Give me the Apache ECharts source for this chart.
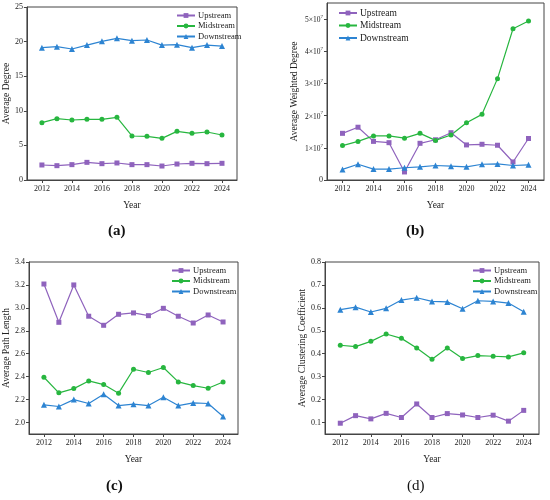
<!DOCTYPE html>
<html>
<head>
<meta charset="UTF-8">
<title>network indicators</title>
<style>
  html, body { margin: 0; padding: 0; background: #fff; }
  #main { width: 550px; height: 500px; }
</style>
</head>
<body>
<div id="main"></div>
<script src="https://cdn.jsdelivr.net/npm/echarts@6/dist/echarts.min.js"></script>
<script>
// 年份与刻度
var years = [2012, 2013, 2014, 2015, 2016, 2017, 2018, 2019, 2020, 2021, 2022, 2023, 2024];
var yearTicks = [2012, 2014, 2016, 2018, 2020, 2022, 2024];
var seriesNames = ['Upstream', 'Midstream', 'Downstream'];

// (a) Average Degree
var degreeUp = [2.17, 2.07, 2.22, 2.55, 2.36, 2.46, 2.22, 2.22, 2.02, 2.31, 2.41, 2.36, 2.41];
var degreeMid = [8.29, 8.86, 8.67, 8.77, 8.77, 9.06, 6.36, 6.31, 6.02, 7.03, 6.74, 6.94, 6.5];
var degreeDown = [19.12, 19.27, 18.93, 19.5, 20.04, 20.47, 20.13, 20.23, 19.5, 19.56, 19.12, 19.5, 19.36];

// (b) Average Weighted Degree
var wdegUp = [1.45e7, 1.64e7, 1.2e7, 1.16e7, 0.25e7, 1.14e7, 1.25e7, 1.47e7, 1.09e7, 1.11e7, 1.08e7, 0.56e7, 1.29e7];
var wdegMid = [1.07e7, 1.2e7, 1.37e7, 1.37e7, 1.3e7, 1.45e7, 1.23e7, 1.4e7, 1.78e7, 2.04e7, 3.15e7, 4.7e7, 4.94e7];
var wdegDown = [0.33e7, 0.49e7, 0.34e7, 0.34e7, 0.38e7, 0.41e7, 0.45e7, 0.43e7, 0.41e7, 0.49e7, 0.5e7, 0.45e7, 0.47e7];
var wdegTicks = [0, 1e7, 2e7, 3e7, 4e7, 5e7];

// (c) Average Path Length
var pathUp = [3.208, 2.874, 3.2, 2.927, 2.848, 2.944, 2.956, 2.932, 2.996, 2.927, 2.868, 2.938, 2.877];
var pathMid = [2.395, 2.259, 2.296, 2.363, 2.331, 2.256, 2.465, 2.436, 2.48, 2.354, 2.322, 2.299, 2.354];
var pathDown = [2.154, 2.14, 2.2, 2.166, 2.247, 2.148, 2.16, 2.148, 2.221, 2.148, 2.171, 2.166, 2.052];
var pathTicks = [2.0, 2.2, 2.4, 2.6, 2.8, 3.0, 3.2, 3.4];

// (d) Average Clustering Coefficient
var clusUp = [0.097, 0.13, 0.116, 0.14, 0.122, 0.181, 0.122, 0.139, 0.133, 0.122, 0.132, 0.106, 0.153];
var clusMid = [0.437, 0.431, 0.454, 0.486, 0.467, 0.425, 0.376, 0.425, 0.379, 0.392, 0.389, 0.386, 0.404];
var clusDown = [0.592, 0.603, 0.582, 0.598, 0.634, 0.644, 0.628, 0.626, 0.596, 0.631, 0.628, 0.621, 0.583];
var clusTicks = [0.1, 0.2, 0.3, 0.4, 0.5, 0.6, 0.7, 0.8];

var colors = ['#8f63bd', '#27b63f', '#2d84d2'];
var symbols = ['rect', 'circle', 'triangle'];
var fontFamily = '"Liberation Serif", "Times New Roman", serif';
var txt = '#222';

var chart = echarts.init(document.getElementById('main'));

// 四个子图的位置
var grids = [
  {left: 23, top: 7, width: 214, height: 173},
  {left: 327, top: 3, width: 217, height: 177},
  {left: 25, top: 262, width: 213, height: 172},
  {left: 325, top: 262, width: 214, height: 172}
];
grids.forEach(function (g) {
  g.show = true;
  g.borderColor = '#444';
  g.borderWidth = 1;
  g.backgroundColor = 'transparent';
});

var panelData = [
  [degreeUp, degreeMid, degreeDown],
  [wdegUp, wdegMid, wdegDown],
  [pathUp, pathMid, pathDown],
  [clusUp, clusMid, clusDown]
];

var xAxes = grids.map(function (g, i) {
  return {
    type: 'value',
    gridIndex: i,
    min: 2011,
    max: 2025,
    name: 'Year',
    nameLocation: 'middle',
    nameGap: 20,
    nameTextStyle: {color: txt, fontFamily: fontFamily, fontSize: 9.5},
    axisLine: {show: true, lineStyle: {color: '#444'}},
    axisTick: {show: true, length: 3, customValues: yearTicks, lineStyle: {color: '#444'}},
    axisLabel: {
      customValues: yearTicks, color: txt, fontFamily: fontFamily, fontSize: 8, margin: 5,
      formatter: function (v) { return String(v); }
    },
    splitLine: {show: false}
  };
});

var yCommon = function (i, name, gap) {
  return {
    type: 'value',
    gridIndex: i,
    name: name,
    nameLocation: 'middle',
    nameGap: gap,
    nameTextStyle: {color: txt, fontFamily: fontFamily, fontSize: 9.5},
    axisLine: {show: true, lineStyle: {color: '#444'}},
    axisTick: {show: true, length: 3, lineStyle: {color: '#444'}},
    axisLabel: {color: txt, fontFamily: fontFamily, fontSize: 8, margin: 4},
    splitLine: {show: false}
  };
};

var ya = yCommon(0, 'Average Degree', 15);
ya.min = 0; ya.max = 25; ya.interval = 5;

var yb = yCommon(1, 'Average Weighted Degree', 28);
yb.min = 0; yb.max = 5.5e7;
yb.axisTick.customValues = wdegTicks;
yb.axisLabel.customValues = wdegTicks;
yb.axisLabel.formatter = function (v) {
  if (v === 0) return '0';
  return '{a|' + Math.round(v / 1e7) + '×10}{s|7}';
};
yb.axisLabel.rich = {
  a: {fontFamily: fontFamily, fontSize: 7.5, color: txt, verticalAlign: 'bottom', lineHeight: 10},
  s: {fontFamily: fontFamily, fontSize: 5, color: txt, verticalAlign: 'top', lineHeight: 10}
};

var yc = yCommon(2, 'Average Path Length', 18);
yc.min = 1.9; yc.max = 3.4;
yc.axisTick.customValues = pathTicks;
yc.axisLabel.customValues = pathTicks;
yc.axisLabel.formatter = function (v) { return v.toFixed(1); };

var yd = yCommon(3, 'Average Clustering Coefficient', 18);
yd.min = 0.05; yd.max = 0.8;
yd.axisTick.customValues = clusTicks;
yd.axisLabel.customValues = clusTicks;
yd.axisLabel.formatter = function (v) { return v.toFixed(1); };

var series = [];
panelData.forEach(function (panel, i) {
  panel.forEach(function (vals, k) {
    series.push({
      name: seriesNames[k],
      type: 'line',
      xAxisIndex: i,
      yAxisIndex: i,
      symbol: symbols[k],
      symbolSize: k === 2 ? 6 : 5,
      color: colors[k],
      lineStyle: {width: 1.2},
      data: years.map(function (y, j) { return [y, vals[j]]; })
    });
  });
});

var legendPos = [
  {left: 176, top: 11, itemGap: 1.5, fontSize: 8.5},
  {left: 338, top: 8, itemGap: 2.5, fontSize: 9.5},
  {left: 171, top: 266, itemGap: 1.5, fontSize: 8.5},
  {left: 472, top: 266, itemGap: 1.5, fontSize: 8.5}
];
var legends = legendPos.map(function (p) {
  return {
    orient: 'vertical',
    left: p.left,
    top: p.top,
    itemWidth: 18,
    itemHeight: 6,
    itemGap: p.itemGap,
    padding: 0,
    data: seriesNames,
    textStyle: {color: txt, fontFamily: fontFamily, fontSize: p.fontSize, padding: [0, 0, 0, -2]}
  };
});

var panelTitles = [
  {text: '(a)', left: 108, top: 224, weight: 'bold'},
  {text: '(b)', left: 406, top: 224, weight: 'bold'},
  {text: '(c)', left: 106, top: 479, weight: 'bold'},
  {text: '(d)', left: 407, top: 479, weight: 'normal'}
];
var titles = panelTitles.map(function (t) {
  return {
    text: t.text,
    left: t.left,
    top: t.top,
    padding: 0,
    textStyle: {color: '#111', fontFamily: fontFamily, fontSize: 15, fontWeight: t.weight}
  };
});

chart.setOption({
  backgroundColor: '#fff',
  animation: false,
  title: titles,
  legend: legends,
  grid: grids,
  xAxis: xAxes,
  yAxis: [ya, yb, yc, yd],
  series: series
});
</script>
</body>
</html>
